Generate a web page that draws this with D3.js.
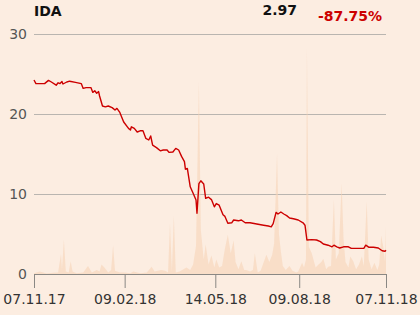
<!DOCTYPE html>
<html>
<head>
<meta charset="utf-8">
<script src="https://cdn.jsdelivr.net/npm/d3@7"></script>
<style>
  body { margin: 0; background: #fcede1; }
  svg { display: block; font-family: "DejaVu Sans", sans-serif; }
</style>
</head>
<body>
<div id="chart"></div>
<script>
// IDA, one year, price + volume
const ticker = "IDA";
const lastPrice = "2.97";
const change = "-87.75%";

// days since 07.11.17
const priceDays = [0, 2, 11, 15, 18, 23, 25, 27, 29, 30, 34, 37, 43, 49, 51, 54, 56, 59, 61, 63, 65, 67, 68,
  71, 74, 77, 81, 84, 86, 89, 93, 98, 100, 101, 104, 107, 110, 113, 116, 119, 121, 123, 127, 131, 134, 138,
  140, 144, 147, 150, 153, 156, 157, 159, 162, 165, 168, 169, 171, 173, 176, 178, 181, 184, 187, 189, 192,
  196, 198, 201, 205, 207, 212, 215, 219, 224, 231, 238, 243, 246, 248, 251, 253, 256, 259, 262, 265, 269,
  274, 279, 281, 283, 288, 293, 297, 300, 305, 309, 311, 314, 317, 321, 326, 329, 336, 342, 344, 347, 352,
  357, 361, 364, 365];
const priceValues = [24.25, 23.8, 23.8, 24.2, 24.0, 23.6, 23.9, 23.8, 24.05, 23.75, 24.0, 24.1, 23.95, 23.8,
  23.2, 23.3, 23.3, 23.3, 22.7, 22.9, 22.6, 22.8, 22.25, 21.0, 20.9, 21.0, 20.8, 20.5, 20.7, 20.2, 19.0, 18.2,
  18.0, 18.4, 18.2, 17.75, 17.9, 17.9, 16.95, 16.75, 17.25, 16.1, 15.8, 15.4, 15.5, 15.5, 15.2, 15.25, 15.7,
  15.5, 14.7, 14.05, 13.1, 13.2, 10.9, 10.1, 9.25, 7.6, 11.3, 11.65, 11.25, 9.45, 9.6, 9.3, 8.4, 8.8, 8.6,
  7.4, 7.2, 6.35, 6.4, 6.75, 6.65, 6.75, 6.4, 6.4, 6.25, 6.1, 6.0, 5.9, 6.3, 7.7, 7.5, 7.75, 7.5, 7.3, 7.0,
  6.9, 6.75, 6.4, 6.1, 4.25, 4.3, 4.25, 4.05, 3.75, 3.6, 3.4, 3.6, 3.4, 3.25, 3.4, 3.4, 3.2, 3.2, 3.2, 3.6,
  3.35, 3.35, 3.25, 2.9, 2.85, 2.97];

const volDays = [0, 6, 13, 20, 25, 28, 29, 31, 33, 36, 38, 40, 44, 51, 56, 60, 65, 68, 70, 73, 77, 80, 82, 84,
  89, 94, 100, 103, 110, 117, 122, 125, 132, 136, 139, 141, 143, 145, 147, 151, 155, 158, 162, 165, 168, 171,
  173, 176, 178, 181, 184, 187, 189, 192, 195, 198, 201, 204, 207, 209, 212, 215, 218, 220, 224, 227, 229,
  232, 235, 238, 241, 244, 247, 249, 252, 254, 256, 258, 261, 265, 268, 272, 274, 278, 280, 282, 283, 285,
  288, 292, 295, 298, 300, 303, 305, 308, 311, 313, 316, 319, 321, 323, 326, 328, 331, 334, 337, 340, 342,
  345, 347, 350, 353, 356, 358, 360, 362, 364, 365];
const volValues = [0.1, 0.3, 0.05, 0.15, 0.2, 2.5, 0.5, 4.3, 0.3, 0.2, 1.6, 0.3, 0.1, 0.2, 1.0, 0.2, 0.5, 0.3,
  1.2, 0.8, 0.2, 0.5, 3.6, 0.4, 0.2, 0.2, 0.1, 0.3, 0.1, 0.2, 0.9, 0.3, 0.5, 0.4, 0.2, 6.3, 0.3, 7.3, 0.2,
  0.3, 0.6, 0.8, 0.5, 1.2, 3.5, 24.0, 5.5, 1.8, 3.7, 1.2, 2.3, 0.8, 1.8, 0.8, 1.0, 3.2, 4.9, 2.6, 4.2, 1.5,
  0.6, 1.6, 0.5, 0.5, 0.3, 0.5, 2.6, 0.2, 0.4, 1.4, 2.4, 1.5, 2.4, 3.8, 15.0, 5.0, 2.8, 1.0, 0.5, 1.0, 0.4,
  0.2, 0.3, 1.4, 0.8, 1.8, 28.2, 3.4, 2.6, 0.8, 1.2, 1.5, 1.9, 0.6, 0.9, 1.0, 9.3, 1.8, 2.6, 11.3, 4.3, 1.5,
  0.8, 2.2, 1.6, 0.6, 1.2, 2.2, 1.0, 9.1, 1.8, 0.6, 1.4, 0.5, 1.2, 4.8, 3.5, 1.5, 5.9];

const yTicks = [0, 10, 20, 30];
const xTickDates = ["07.11.17", "09.02.18", "14.05.18", "09.08.18", "07.11.18"];

const W = 420, H = 315;
const margin = {top: 34, right: 34, bottom: 41, left: 34};

const parse = d3.timeParse("%d.%m.%y");
const start = parse("07.11.17");
const dayToDate = d => d3.timeDay.offset(start, d);

const price = priceDays.map((d, i) => ({date: dayToDate(d), v: priceValues[i]}));
const volume = volDays.map((d, i) => ({date: dayToDate(d), v: volValues[i]}));

const svg = d3.select("#chart").append("svg")
  .attr("width", W).attr("height", H);

svg.append("rect").attr("width", W).attr("height", H).attr("fill", "#fcede1");

const x = d3.scaleTime()
  .domain([start, parse("07.11.18")])
  .range([margin.left, W - margin.right]);

const y = d3.scaleLinear()
  .domain([0, 30])
  .range([H - margin.bottom, margin.top]);

// gridlines
svg.append("g")
  .selectAll("line")
  .data(yTicks.filter(t => t > 0))
  .enter().append("line")
    .attr("x1", x.range()[0]).attr("x2", x.range()[1])
    .attr("y1", d => y(d)).attr("y2", d => y(d))
    .attr("stroke", "#b9b5b0").attr("stroke-width", 1)
    .attr("shape-rendering", "crispEdges");

// y labels
svg.append("g")
  .selectAll("text")
  .data(yTicks)
  .enter().append("text")
    .attr("x", 27).attr("y", d => y(d) + 5)
    .attr("text-anchor", "end")
    .attr("font-size", 14)
    .attr("fill", "#555")
    .text(d => d);

// volume area
const area = d3.area()
  .x(d => x(d.date))
  .y0(y(0))
  .y1(d => y(d.v));

svg.append("path")
  .datum(volume)
  .attr("d", area)
  .attr("fill", "#f6d3b8")
  .attr("fill-opacity", 0.6);

// price line
const line = d3.line()
  .x(d => x(d.date))
  .y(d => y(d.v));

svg.append("path")
  .datum(price)
  .attr("d", line)
  .attr("fill", "none")
  .attr("stroke", "#cc0000")
  .attr("stroke-width", 1.4)
  .attr("stroke-linejoin", "round");

// x axis
const xAxis = d3.axisBottom(x)
  .tickValues(xTickDates.map(parse))
  .tickFormat(d3.timeFormat("%d.%m.%y"))
  .tickSize(14)
  .tickPadding(6);

const gx = svg.append("g")
  .attr("transform", "translate(0," + y(0) + ")")
  .call(xAxis);

gx.select(".domain").attr("stroke", "#8a8884").attr("d", "M" + x.range()[0] + ",0.5H" + x.range()[1]);
gx.selectAll(".tick line").attr("stroke", "#8a8884");
gx.selectAll(".tick text")
  .attr("font-size", 14)
  .attr("font-family", "DejaVu Sans, sans-serif")
  .attr("fill", "#333");

// header
svg.append("text")
  .attr("x", 34).attr("y", 16)
  .attr("font-size", 14).attr("font-weight", "bold")
  .attr("fill", "#111")
  .text(ticker);

svg.append("text")
  .attr("x", 297).attr("y", 15)
  .attr("text-anchor", "end")
  .attr("font-size", 14).attr("font-weight", "bold")
  .attr("fill", "#111")
  .text(lastPrice);

svg.append("text")
  .attr("x", 382).attr("y", 21)
  .attr("text-anchor", "end")
  .attr("font-size", 14).attr("font-weight", "bold")
  .attr("fill", "#cc0000")
  .text(change);
</script>
</body>
</html>
